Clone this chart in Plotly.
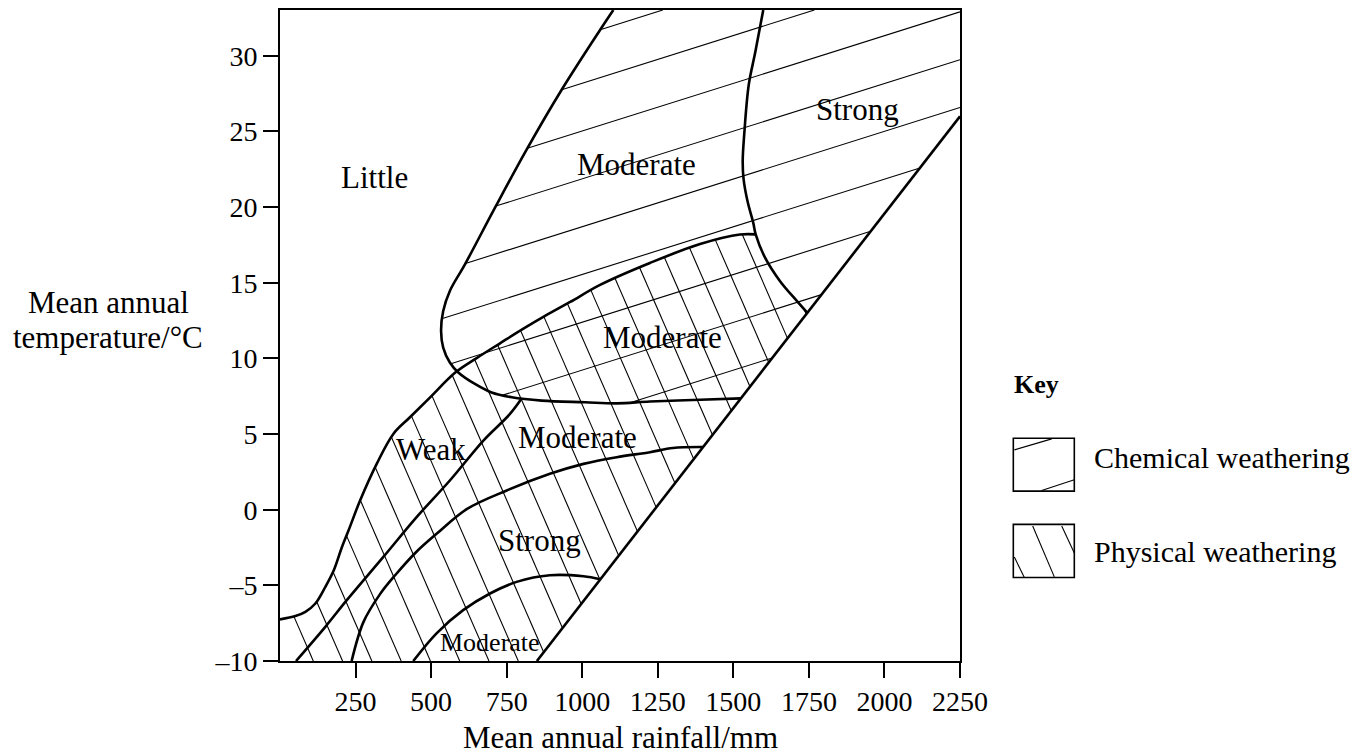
import numpy as np
import plotly.graph_objects as go

FONT = "Liberation Serif, Times New Roman, serif"

# ---------------- data (mean annual rainfall / mm, mean annual temperature / degC) ----------------
# outer boundary of chemical weathering (left edge, bulge, lower edge at ~7 degC)
chem_edge_rain = [1103, 1059, 932, 816, 711, 612, 562, 540, 533, 540, 562, 590, 645, 700, 767, 866, 1009, 1114, 1224, 1390, 1525]
chem_edge_temp = [33.03, 31.71, 27.76, 23.80, 19.95, 16.22, 14.46, 13.14, 11.82, 10.72, 9.73, 9.07, 8.31, 7.75, 7.43, 7.21, 7.10, 7.03, 7.15, 7.27, 7.36]

# chemical: moderate / strong divide
chem_split_rain = [1599, 1573, 1551, 1536, 1531, 1534, 1547, 1566, 1574, 1605, 1654, 1710, 1745]
chem_split_temp = [33.03, 30.28, 28.09, 24.79, 23.03, 21.84, 20.39, 18.96, 18.20, 16.66, 15.12, 13.80, 13.01]

# upper boundary of physical weathering
phys_edge_rain = [0, 51, 84, 117, 150, 178, 205, 227, 265, 320, 375, 430, 496, 579, 652, 728, 804, 877, 960, 1059, 1224, 1390, 1522, 1574]
phys_edge_temp = [-7.25, -7.03, -6.75, -6.20, -5.10, -4.00, -2.46, -1.36, 0.61, 3.03, 5.01, 6.11, 7.41, 9.05, 10.04, 11.00, 11.95, 12.81, 13.73, 14.86, 16.31, 17.56, 18.19, 18.20]

# physical: weak / moderate divide
phys_weak_rain = [53, 150, 221, 342, 452, 562, 673, 761, 800]
phys_weak_temp = [-10.0, -7.74, -5.98, -3.12, -0.49, 1.93, 4.57, 6.33, 7.36]

# physical: moderate / strong divide
phys_strong_rain = [237, 276, 331, 381, 450, 520, 619, 750, 893, 1004, 1114, 1224, 1300, 1400]
phys_strong_temp = [-10.0, -7.43, -5.58, -4.33, -2.81, -1.56, 0.05, 1.27, 2.37, 3.03, 3.47, 3.80, 4.08, 4.14]

# physical: strong / moderate divide (low temperature)
phys_low_rain = [441, 518, 606, 695, 783, 893, 1004, 1060]
phys_low_temp = [-10.0, -8.17, -6.64, -5.54, -4.77, -4.33, -4.40, -4.60]

# dry limit (straight diagonal)
limit_rain = [850, 2250]
limit_temp = [-10.0, 26.0]

# hatching families
chem_slope = 0.0063            # degC per mm
chem_intercepts = [25.05 - 3.16 * k for k in range(-3, 10)]
phys_slope = -0.04583
phys_feet = [110.2 + 96.88 * k for k in range(0, 25)]   # rainfall where each line meets -10 degC

x_ticks = [250, 500, 750, 1000, 1250, 1500, 1750, 2000, 2250]
y_ticks = [-10, -5, 0, 5, 10, 15, 20, 25, 30]
y_ticklabels = ["\u201310", "\u20135", "0", "5", "10", "15", "20", "25", "30"]

labels = [
    ("Little", 314, 21.95, 31),
    ("Moderate", 1180, 22.80, 31),
    ("Strong", 1911, 26.45, 31),
    ("Moderate", 1266, 11.40, 31),
    ("Weak", 500, 4.0, 31),
    ("Moderate", 984, 4.80, 31),
    ("Strong", 858, -2.05, 31),
    ("Moderate", 695, -8.75, 26),
]

X_MAX, Y_MIN, Y_MAX = 2250, -10, 33.03


def hatch(px, py, slope, intercepts):
    px = np.asarray(px, float)
    py = np.asarray(py, float)
    x2, y2 = np.roll(px, -1), np.roll(py, -1)
    xs, ys = [], []
    for b in intercepts:
        f1 = py - slope * px - b
        f2 = y2 - slope * x2 - b
        cross = (f1 > 0) != (f2 > 0)
        t = f1[cross] / (f1[cross] - f2[cross])
        xi = np.sort(px[cross] + t * (x2[cross] - px[cross]))
        for a, c in zip(xi[0::2], xi[1::2]):
            xs += [a, c, None]
            ys += [slope * a + b, slope * c + b, None]
    return xs, ys


# chemical region polygon
chem_poly_x = chem_edge_rain + [limit_rain[1], X_MAX]
chem_poly_y = chem_edge_temp + [limit_temp[1], Y_MAX]

# physical region polygon
j = chem_split_rain.index(phys_edge_rain[-1])
phys_poly_x = phys_edge_rain + chem_split_rain[j + 1:] + [limit_rain[0], 0]
phys_poly_y = phys_edge_temp + chem_split_temp[j + 1:] + [limit_temp[0], Y_MIN]

cx, cy = hatch(chem_poly_x, chem_poly_y, chem_slope, chem_intercepts)
phys_b = [-10 - phys_slope * f for f in phys_feet]
hx, hy = hatch(phys_poly_x, phys_poly_y, phys_slope, phys_b)

fig = go.Figure()
fig.add_trace(go.Scatter(x=cx, y=cy, mode="lines", line=dict(color="black", width=1.1), hoverinfo="skip"))
fig.add_trace(go.Scatter(x=hx, y=hy, mode="lines", line=dict(color="black", width=1.1), hoverinfo="skip"))

for xs, ys in [(chem_edge_rain, chem_edge_temp), (chem_split_rain, chem_split_temp),
               (phys_edge_rain, phys_edge_temp), (phys_weak_rain, phys_weak_temp),
               (phys_strong_rain, phys_strong_temp), (phys_low_rain, phys_low_temp)]:
    fig.add_trace(go.Scatter(x=xs, y=ys, mode="lines",
                             line=dict(color="black", width=2.6, shape="spline", smoothing=1.0),
                             hoverinfo="skip"))
fig.add_trace(go.Scatter(x=limit_rain, y=limit_temp, mode="lines",
                         line=dict(color="black", width=2.6), hoverinfo="skip"))

for text, x, y, size in labels:
    fig.add_annotation(x=x, y=y, text=text, showarrow=False, xanchor="center", yanchor="middle",
                       borderpad=0, font=dict(family=FONT, size=size, color="black"))

# axis titles
fig.add_annotation(x=0.5, y=-0.117, xref="paper", yref="paper", text="Mean annual rainfall/mm",
                   showarrow=False, xanchor="center", yanchor="middle", borderpad=0,
                   font=dict(family=FONT, size=31, color="black"))
fig.add_annotation(x=-0.2529, y=0.5505, xref="paper", yref="paper", text="Mean annual",
                   showarrow=False, xanchor="center", yanchor="middle", borderpad=0,
                   font=dict(family=FONT, size=31, color="black"))
fig.add_annotation(x=-0.2529, y=0.4975, xref="paper", yref="paper", text="temperature/°C",
                   showarrow=False, xanchor="center", yanchor="middle", borderpad=0,
                   font=dict(family=FONT, size=31, color="black"))

# key
fig.add_annotation(x=1.0784, y=0.4244, xref="paper", yref="paper", text="<b>Key</b>",
                   showarrow=False, xanchor="left", yanchor="middle", borderpad=0,
                   font=dict(family=FONT, size=26, color="black"))
fig.add_annotation(x=1.196, y=0.313, xref="paper", yref="paper", text="Chemical weathering",
                   showarrow=False, xanchor="left", yanchor="middle", borderpad=0,
                   font=dict(family=FONT, size=30, color="black"))
fig.add_annotation(x=1.196, y=0.1688, xref="paper", yref="paper", text="Physical weathering",
                   showarrow=False, xanchor="left", yanchor="middle", borderpad=0,
                   font=dict(family=FONT, size=30, color="black"))

key_boxes = [(1.0784, 0.2609, 1.1681, 0.3421), (1.0784, 0.1282, 1.1681, 0.2099)]
for x0, y0, x1, y1 in key_boxes:
    fig.add_shape(type="rect", xref="paper", yref="paper", x0=x0, y0=y0, x1=x1, y1=y1,
                  line=dict(color="black", width=1.6))
key_lines = [
    (1.0799, 0.3243, 1.1349, 0.3412), (1.1201, 0.2620, 1.1681, 0.2784),
    (1.0799, 0.1598, 1.0946, 0.1282), (1.1069, 0.2073, 1.1387, 0.1292), (1.1496, 0.2073, 1.1681, 0.1659),
]
for x0, y0, x1, y1 in key_lines:
    fig.add_shape(type="line", xref="paper", yref="paper", x0=x0, y0=y0, x1=x1, y1=y1,
                  line=dict(color="black", width=1.1))

axis_common = dict(showline=True, linecolor="black", linewidth=1.6, mirror=True, showgrid=False,
                   zeroline=False, ticks="outside", ticklen=15, tickwidth=1.6, tickcolor="black",
                   tickfont=dict(family=FONT, size=28, color="black"))
fig.update_xaxes(range=[0, X_MAX], tickvals=x_ticks, **axis_common)
fig.update_yaxes(range=[Y_MIN, Y_MAX], tickvals=y_ticks, ticktext=y_ticklabels, **axis_common)

fig.update_layout(width=1366, height=754, margin=dict(l=280, r=406, t=8, b=93),
                  paper_bgcolor="white", plot_bgcolor="white", showlegend=False,
                  font=dict(family=FONT, color="black"))

fig.write_html("out.html", config={"displayModeBar": False},
               post_script="document.body.style.margin='0px';document.body.style.overflow='hidden';")
